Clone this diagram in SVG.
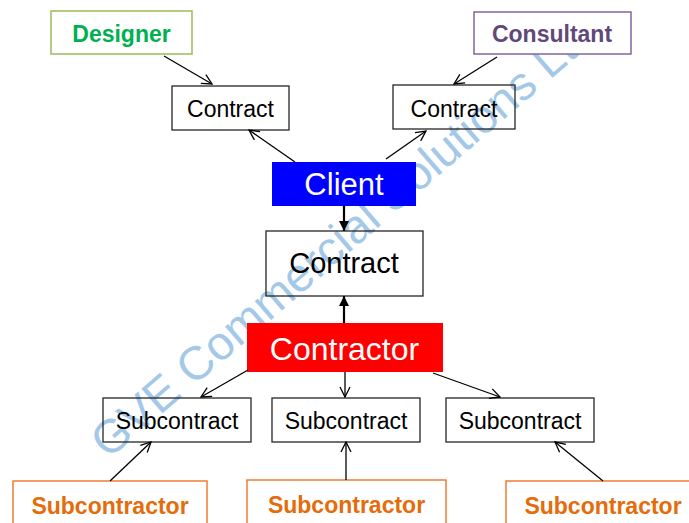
<svg xmlns="http://www.w3.org/2000/svg" width="689" height="523" viewBox="0 0 689 523">
<style>
.box{fill:none;stroke:#262626;stroke-width:1.3}
.lbl{font-family:"Liberation Sans",Arial,sans-serif;font-size:23px;fill:#000;text-anchor:middle}
.big{font-family:"Liberation Sans",Arial,sans-serif;fill:#fff;text-anchor:middle}
.bold{font-family:"Liberation Sans",Arial,sans-serif;font-size:23px;font-weight:bold;text-anchor:middle}
.thin{stroke:#000;stroke-width:1.3;fill:none;marker-end:url(#open)}
.thick{stroke:#000;stroke-width:2.2;fill:none;marker-end:url(#solid)}
.wm{font-family:"Liberation Sans",Arial,sans-serif;font-size:47px;fill:#A4C8E8}
</style>
<defs>
<marker id="open" viewBox="0 0 12 12" refX="11" refY="6" markerWidth="12" markerHeight="12" markerUnits="userSpaceOnUse" orient="auto">
<path d="M1,1 L11,6 L1,11" fill="none" stroke="#000" stroke-width="1.3"/>
</marker>
<marker id="solid" viewBox="0 0 10 10" refX="10" refY="5" markerWidth="10" markerHeight="10" markerUnits="userSpaceOnUse" orient="auto">
<path d="M0,0 L10,5 L0,10 Z" fill="#000"/>
</marker>
</defs>
<rect width="689" height="523" fill="#fff"/>
<text class="wm" transform="translate(108,460) rotate(-40.7)">GVE Commercial Solutions Ltd</text>
<g id="designer">
<rect x="51" y="11" width="141" height="43" fill="#fff" stroke="#9BBB59" stroke-width="1.5"/>
<text class="bold" x="121.5" y="42" fill="#00B050">Designer</text>
</g>
<g id="consultant">
<rect x="474" y="12" width="157" height="42" fill="#fff" stroke="#8064A2" stroke-width="1.5"/>
<text class="bold" x="552" y="42" fill="#5F497A">Consultant</text>
</g>
<g id="contract-designer">
<rect class="box" x="172" y="86" width="117" height="44"/>
<text class="lbl" x="230.5" y="117">Contract</text>
</g>
<g id="contract-consultant">
<rect class="box" x="393" y="85" width="122" height="44"/>
<text class="lbl" x="454" y="116.5">Contract</text>
</g>
<g id="client">
<rect x="272" y="162" width="144" height="44" fill="#0000FF"/>
<text class="big" x="344" y="194.5" style="font-size:31px">Client</text>
</g>
<g id="contract-main">
<rect class="box" x="266" y="231" width="157" height="65"/>
<text class="lbl" x="344" y="273" style="font-size:29px">Contract</text>
</g>
<g id="contractor">
<rect x="247" y="323" width="196" height="49" fill="#FF0000"/>
<text class="big" x="344.5" y="359.5" style="font-size:32px">Contractor</text>
</g>
<g id="subcontract-1">
<rect class="box" x="103" y="398" width="148" height="44"/>
<text class="lbl" x="177" y="429">Subcontract</text>
</g>
<g id="subcontract-2">
<rect class="box" x="272" y="398" width="148" height="44"/>
<text class="lbl" x="346" y="429">Subcontract</text>
</g>
<g id="subcontract-3">
<rect class="box" x="446" y="398" width="148" height="44"/>
<text class="lbl" x="520" y="429">Subcontract</text>
</g>
<g id="subcontractor-1">
<rect x="13" y="481" width="194" height="60" fill="#fff" stroke="#ED7D31" stroke-width="1.5"/>
<text class="bold" x="110" y="514" fill="#E46C0A">Subcontractor</text>
</g>
<g id="subcontractor-2">
<rect x="247" y="480" width="199" height="60" fill="#fff" stroke="#ED7D31" stroke-width="1.5"/>
<text class="bold" x="346.5" y="513" fill="#E46C0A">Subcontractor</text>
</g>
<g id="subcontractor-3">
<rect x="506" y="481" width="200" height="60" fill="#fff" stroke="#ED7D31" stroke-width="1.5"/>
<text class="bold" x="603" y="514" fill="#E46C0A">Subcontractor</text>
</g>
<g id="connectors">
<line class="thin" x1="164" y1="56" x2="212" y2="84"/>
<line class="thin" x1="497" y1="57" x2="454" y2="84"/>
<line class="thin" x1="295" y1="162" x2="249" y2="130"/>
<line class="thin" x1="386" y1="159" x2="426" y2="131"/>
<line class="thick" x1="344" y1="206" x2="344" y2="231"/>
<line class="thick" x1="344" y1="323" x2="344" y2="296"/>
<line class="thin" x1="248" y1="370" x2="201" y2="397"/>
<line class="thin" x1="345" y1="372" x2="345" y2="397"/>
<line class="thin" x1="433" y1="373" x2="500" y2="397"/>
<line class="thin" x1="110" y1="481" x2="151" y2="442"/>
<line class="thin" x1="346" y1="480" x2="346" y2="442"/>
<line class="thin" x1="603" y1="481" x2="555" y2="442"/>
</g>
</svg>
